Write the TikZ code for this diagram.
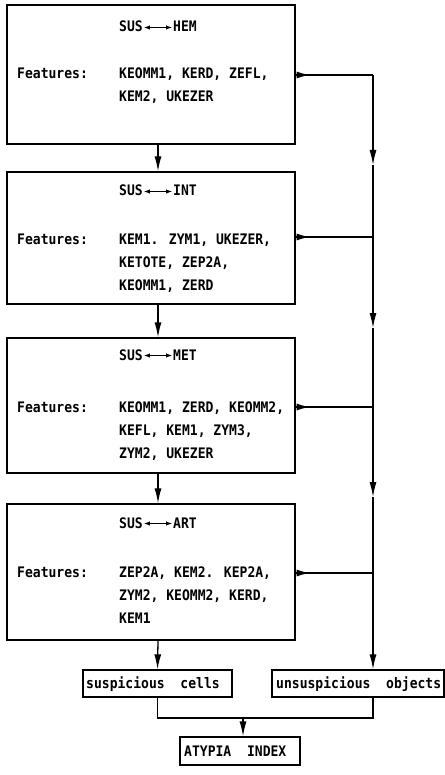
\documentclass[tikz,border=0pt]{standalone}
\usepackage{fontspec}
\newfontfamily\monofont[FakeStretch=0.9]{DejaVu Sans Mono Bold}
\usetikzlibrary{arrows.meta,positioning}
\tikzset{
  stagebox/.style={draw,line width=1.3pt,inner sep=0pt},
  outbox/.style={draw,line width=1.3pt,inner sep=3pt,minimum height=27pt},
  txt/.style={anchor=base west,inner sep=0pt,font=\monofont\fontsize{14.5}{17}\selectfont},
  flow/.style={line width=1.3pt,-{Latex[length=15pt,width=7pt]}},
  wedge/.style={line width=1.3pt,-{Latex[length=13pt,width=7pt]}},
  plain/.style={line width=1.3pt},
}
\begin{document}
\begin{tikzpicture}[x=1pt,y=-1pt]
    \useasboundingbox (0,0) rectangle (444,775);
    % classifier stages
    \node[stagebox,minimum width=288pt,minimum height=139pt] (hem) at (151,74.5) {};
    \node[stagebox,minimum width=288pt,minimum height=132pt] (int) at (151,238) {};
    \node[stagebox,minimum width=288pt,minimum height=135pt] (met) at (151,405.5) {};
    \node[stagebox,minimum width=288pt,minimum height=136pt] (art) at (151,572) {};
    % stage texts
    \foreach \nm/\cls/\ty in {hem/HEM/32, int/INT/196, met/MET/360, art/ART/528}{
      \node[txt] (sus\nm) at (119,\ty) {SUS};
      \node[txt] (cls\nm) at (173,\ty) {\cls};
      \draw[line width=1pt,{Latex[length=6pt,width=4.5pt]}-{Latex[length=6pt,width=4.5pt]}]
        ([xshift=1pt,yshift=4.5pt]sus\nm.base east) -- ([xshift=-1pt,yshift=4.5pt]cls\nm.base west);
    }
    \node[txt] (fhem) at (17,79) {Features:};
    \node[txt] at (119,79) {KEOMM1, KERD, ZEFL,};
    \node[txt] at (119,102) {KEM2, UKEZER};
    \node[txt] (fint) at (17,244) {Features:};
    \node[txt] at (119,244) {KEM1. ZYM1, UKEZER,};
    \node[txt] at (119,267) {KETOTE, ZEP2A,};
    \node[txt] at (119,290) {KEOMM1, ZERD};
    \node[txt] (fmet) at (17,412) {Features:};
    \node[txt] at (119,412) {KEOMM1, ZERD, KEOMM2,};
    \node[txt] at (119,435) {KEFL, KEM1, ZYM3,};
    \node[txt] at (119,458) {ZYM2, UKEZER};
    \node[txt] (fart) at (17,577) {Features:};
    \node[txt] at (119,577) {ZEP2A, KEM2. KEP2A,};
    \node[txt] at (119,600) {ZYM2, KEOMM2, KERD,};
    \node[txt] at (119,623) {KEM1};
    % result boxes
    \node[outbox,minimum width=149pt] (cells) at (157.5,683.5) {};
    \node[txt] at (86,688) {suspicious\ \ cells};
    \node[outbox,minimum width=172pt] (objects) at (358,683.5) {};
    \node[txt] at (276,688) {unsuspicious\ \ objects};
    \node[outbox,minimum width=120pt,minimum height=28pt] (index) at (240,751) {};
    \node[txt] at (184,756) {ATYPIA\ \ INDEX};
    % main chain
    \draw[flow] ([xshift=7pt]hem.south) -- ([xshift=7pt]int.north);
    \draw[flow] ([xshift=7pt]int.south) -- ([xshift=7pt]met.north);
    \draw[flow] ([xshift=7pt]met.south) -- ([xshift=7pt]art.north);
    \draw[flow] ([xshift=7pt]art.south) -- ([xshift=0pt]cells.north);
    % rejected objects
    \coordinate (r1) at (373,75);
    \coordinate (r2) at (373,237);
    \coordinate (r3) at (373,407);
    \coordinate (r4) at (373,573);
    \coordinate (m1) at (373,165);
    \coordinate (m2) at (373,328);
    \coordinate (m3) at (373,497);
    \foreach \rr/\bx in {r1/hem, r2/int, r3/met, r4/art}{
      \draw[plain] (\rr -| \bx.east) -- (\rr);
      \draw[wedge] (\rr -| \bx.east) -- ++(14,0);
    }
    \draw[flow] (r1) -- (m1);
    \draw[plain] (m1) -- (r2);
    \draw[flow] (r2) -- (m2);
    \draw[plain] (m2) -- (r3);
    \draw[flow] (r3) -- (m3);
    \draw[plain] (m3) -- (r4);
    \draw[flow] (r4) -- (r4 |- objects.north);
    % merge
    \coordinate (jn) at (243,718);
    \draw[plain] (cells.south) |- (jn) -| (objects.south -| r1);
    \draw[flow] (jn) -- (jn |- index.north);
\end{tikzpicture}
\end{document}
